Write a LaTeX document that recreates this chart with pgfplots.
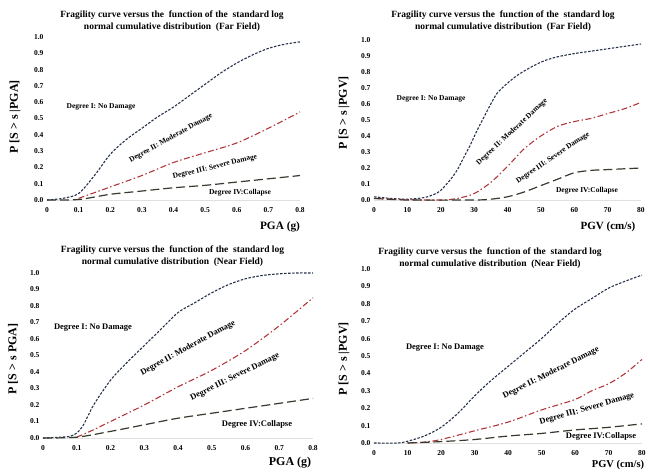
\documentclass[border=0pt]{standalone}
\usepackage{pgfplots}
\pgfplotsset{compat=1.18}
\usepackage{fontspec}
\setmainfont{Liberation Serif}
\definecolor{cone}{HTML}{27324A}
\definecolor{ctwo}{HTML}{B0383C}
\definecolor{cthree}{HTML}{363B30}
\pgfplotsset{
  frag/.style={scale only axis, anchor=south west, clip=false,
    ymin=0, ymax=1,
    ytick={0,0.1,0.2,0.3,0.4,0.5,0.6,0.7,0.8,0.9,1.0},
    yticklabels={0.0,0.1,0.2,0.3,0.4,0.5,0.6,0.7,0.8,0.9,1.0},
    axis line style={draw=none}, tick style={draw=none},
    /pgf/number format/assume math mode=true,
    tick label style={font=\bfseries\fontsize{7.5}{8}\selectfont},
    xticklabel style={yshift=-4pt},
  },
  pga/.style={xmin=0, xmax=0.8, xtick={0,0.1,0.2,0.3,0.4,0.5,0.6,0.7,0.8},
    xticklabels={0,0.1,0.2,0.3,0.4,0.5,0.6,0.7,0.8}},
  pgv/.style={xmin=0, xmax=80, xtick={0,10,20,30,40,50,60,70,80},
    xticklabels={0,10,20,30,40,50,60,70,80}},
  c1/.style={color=cone, line width=1.1pt, dash pattern=on 2.5pt off 1.5pt, smooth},
  c2/.style={color=ctwo, line width=1.1pt, dash pattern=on 6pt off 2.5pt on 1.5pt off 2.5pt, smooth},
  c3/.style={color=cthree, line width=1.2pt, dash pattern=on 9pt off 4pt, smooth},
}
\tikzset{ttl/.style={font=\bfseries\fontsize{9.5}{12}\selectfont, align=center},
  alab/.style={font=\bfseries\fontsize{12}{14}\selectfont},
  dtop/.style={font=\bfseries\fontsize{7.5}{9}\selectfont},
  dbot/.style={font=\bfseries\fontsize{8.5}{10}\selectfont}}
\begin{document}
\begin{tikzpicture}
\useasboundingbox (0pt,0pt) rectangle (648pt,473pt);
% ---------- top left
\begin{axis}[frag, pga, at={(47pt,273pt)}, width=253pt, height=163pt]
\draw[black!12] (rel axis cs:0,0) -- (rel axis cs:1,0);
\addplot[c1] coordinates {(0,0) (0.05,0.01) (0.1,0.04) (0.15,0.15) (0.2,0.28) (0.25,0.37) (0.3,0.44) (0.35,0.51) (0.4,0.57) (0.45,0.64) (0.5,0.71) (0.55,0.78) (0.6,0.84) (0.65,0.89) (0.7,0.93) (0.75,0.955) (0.8,0.97)};
\addplot[c2] coordinates {(0.1,0.01) (0.2,0.08) (0.3,0.15) (0.4,0.23) (0.5,0.29) (0.6,0.35) (0.7,0.44) (0.8,0.54)};
\addplot[c3] coordinates {(0,0) (0.1,0.003) (0.2,0.035) (0.3,0.055) (0.4,0.075) (0.5,0.09) (0.6,0.11) (0.7,0.13) (0.8,0.15)};
\end{axis}
% ---------- top right
\begin{axis}[frag, pgv, at={(374pt,273pt)}, width=267pt, height=160pt]
\draw[black!12] (rel axis cs:0,0) -- (rel axis cs:1,0);
\addplot[c1] coordinates {(0,0.02) (5,0.01) (10,0.005) (15,0.015) (18,0.035) (20,0.06) (23,0.13) (25,0.19) (27,0.27) (29,0.35) (31,0.44) (33,0.52) (35,0.6) (37,0.67) (40,0.73) (43,0.78) (47,0.83) (51,0.87) (55,0.895) (60,0.915) (65,0.93) (70,0.945) (75,0.96) (80,0.975)};
\addplot[c2] coordinates {(0,0.01) (10,0.002) (20,0) (25,0.01) (30,0.04) (35,0.11) (40,0.21) (45,0.32) (50,0.40) (55,0.46) (60,0.49) (65,0.51) (70,0.54) (75,0.57) (80,0.61)};
\addplot[c3] coordinates {(0,0.01) (10,0) (30,0) (35,0.005) (40,0.02) (45,0.05) (50,0.09) (55,0.13) (60,0.17) (65,0.185) (70,0.19) (75,0.195) (80,0.2)};
\end{axis}
% ---------- bottom left
\begin{axis}[frag, pga, at={(43pt,35pt)}, width=270pt, height=165pt]
\draw[black!12] (rel axis cs:0,0) -- (rel axis cs:1,0);
\addplot[c1] coordinates {(0,0) (0.05,0.005) (0.08,0.01) (0.1,0.03) (0.12,0.08) (0.15,0.2) (0.2,0.35) (0.25,0.46) (0.3,0.56) (0.35,0.66) (0.4,0.76) (0.45,0.82) (0.5,0.88) (0.55,0.93) (0.6,0.965) (0.65,0.985) (0.7,0.995) (0.75,1.0) (0.8,1.0)};
\addplot[c2] coordinates {(0.1,0.005) (0.15,0.05) (0.2,0.1) (0.3,0.2) (0.4,0.31) (0.5,0.41) (0.6,0.53) (0.7,0.68) (0.8,0.85)};
\addplot[c3] coordinates {(0,0) (0.1,0.005) (0.2,0.04) (0.3,0.08) (0.4,0.12) (0.5,0.15) (0.6,0.18) (0.7,0.21) (0.8,0.24)};
\end{axis}
% ---------- bottom right
\begin{axis}[frag, pgv, at={(374pt,30pt)}, width=268pt, height=174pt]
\draw[black!12] (rel axis cs:0,0) -- (rel axis cs:1,0);
\addplot[c1] coordinates {(0,0) (7,0) (10,0.01) (15,0.04) (20,0.09) (25,0.17) (30,0.27) (35,0.36) (40,0.44) (45,0.52) (50,0.6) (55,0.69) (60,0.77) (65,0.83) (70,0.89) (75,0.93) (80,0.965)};
\addplot[c2] coordinates {(10,0) (15,0.005) (20,0.02) (30,0.07) (40,0.12) (50,0.19) (60,0.25) (65,0.3) (70,0.34) (75,0.4) (80,0.48)};
\addplot[c3] coordinates {(10,0) (20,0.008) (30,0.02) (40,0.04) (50,0.055) (60,0.075) (70,0.09) (80,0.11)};
\end{axis}
% ---------- titles
\node[ttl] at (172pt,451.5pt) {Fragility curve versus the\ \ function of the\ \ standard log\\normal cumulative distribution\ \ (Far Field)};
\node[ttl] at (503pt,452pt) {Fragility curve versus the\ \ function of the\ \ standard log\\normal cumulative distribution\ \ (Far Field)};
\node[ttl] at (172.5pt,217pt) {Fragility curve versus the\ \ function of the\ \ standard log\\normal cumulative distribution\ \ (Near Field)};
\node[ttl] at (490pt,215pt) {Fragility curve versus the\ \ function of the\ \ standard log\\normal cumulative distribution\ \ (Near Field)};
% ---------- axis labels
\node[alab, font=\bfseries\fontsize{11.3}{13}\selectfont] at (280pt,246pt) {PGA (g)};
\node[alab, font=\bfseries\fontsize{11}{13}\selectfont] at (608pt,246pt) {PGV (cm/s)};
\node[alab] at (290pt,10pt) {PGA (g)};
\node[alab, font=\bfseries\fontsize{10.5}{12}\selectfont] at (618pt,8pt) {PGV (cm/s)};
\node[alab, rotate=90] at (15pt,356pt) {P [S > s |PGA]};
\node[alab, rotate=90] at (344pt,360pt) {P [S > s |PGV]};
\node[alab, rotate=90] at (13pt,114pt) {P [S > s PGA]};
\node[alab, rotate=90] at (344pt,114pt) {P [S > s |PGV]};
% ---------- region labels
\node[dtop] at (101pt,366pt) {Degree I: No Damage};
\node[dtop, rotate=29] at (171pt,335pt) {Degree II: Moderate Damage};
\node[dtop, rotate=13.7] at (215pt,306pt) {Degree III: Severe Damage};
\node[dtop] at (240pt,280pt) {Degree IV:Collapse};
\node[dtop] at (431pt,374pt) {Degree I: No Damage};
\node[dtop, rotate=43] at (512pt,341pt) {Degree II: Moderate Damage};
\node[dtop, rotate=34] at (553pt,315pt) {Degree III: Severe Damage};
\node[dtop] at (587pt,282pt) {Degree IV:Collapse};
\node[dbot] at (93pt,145pt) {Degree I: No Damage};
\node[dbot, rotate=28.7] at (188pt,125pt) {Degree II: Moderate Damage};
\node[dbot, rotate=26.6] at (235pt,96pt) {Degree III: Severe Damage};
\node[dbot] at (257pt,49pt) {Degree IV:Collapse};
\node[dbot] at (445pt,125pt) {Degree I: No Damage};
\node[dbot, rotate=26.6] at (551pt,100pt) {Degree II: Moderate Damage};
\node[dbot, rotate=16.3] at (587pt,64pt) {Degree III: Severe Damage};
\node[dbot] at (601pt,37pt) {Degree IV:Collapse};
\end{tikzpicture}
\end{document}
